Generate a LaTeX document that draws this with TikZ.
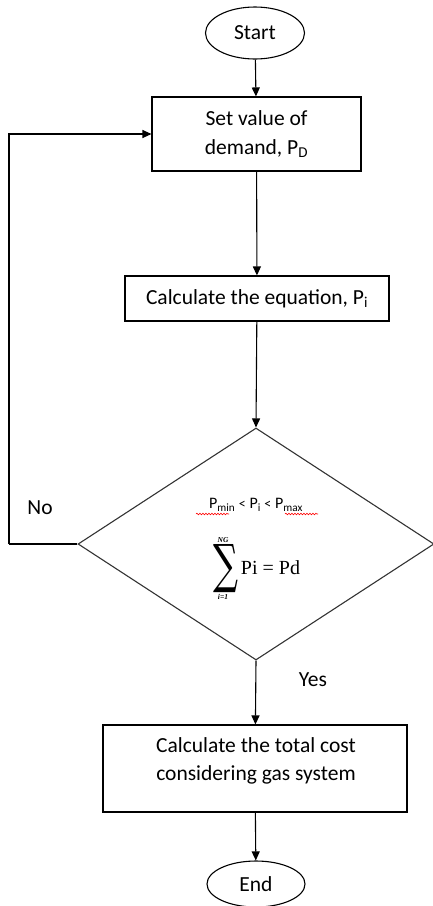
\documentclass[tikz,border=0pt]{standalone}
\usepackage{fontspec}
\setmainfont{Carlito}
\newfontfamily\serifmath{Liberation Serif}
\newfontfamily\sumfont{DejaVu Serif}
\usetikzlibrary{shapes.geometric,arrows.meta,decorations.pathmorphing}
\begin{document}
\begin{tikzpicture}[x=1pt,y=-1pt,
  every node/.style={font=\fontsize{21.5}{28.5}\selectfont},
  term/.style={draw,ellipse,line width=1.1pt,inner sep=0pt},
  proc/.style={draw,rectangle,line width=1.1pt,inner sep=0pt,align=center},
  dec/.style={draw,diamond,line width=1.1pt,inner sep=0pt,draw=black!80},
  conn/.style={line width=1.1pt,-{Triangle[length=9pt,width=8pt]}},
  plain/.style={line width=1.1pt},
  lim/.style={inner sep=0pt,font=\serifmath\itshape\bfseries\fontsize{7.5}{7.5}\selectfont},
  squig/.style={red,line width=0.6pt,decorate,decoration={snake,amplitude=0.8pt,segment length=3pt}}]
\useasboundingbox (0,0) rectangle (433,906);
\node[term,minimum width=99pt,minimum height=52pt] (start) at (255,33) {Start};
\node[proc,minimum width=209pt,minimum height=74pt] (box1) at (256.5,134) {Set value of\\demand, P\textsubscript{D}};
\node[proc,minimum width=264pt,minimum height=45pt] (box2) at (257,298.5) {Calculate the equation, P\textsubscript{i}};
\node[dec,minimum width=356pt,minimum height=232pt] (dec) at (256,544) {};
\node[font=\fontsize{16}{16}\selectfont] (cond1) at (256,505) {P\textsubscript{min} {\fontsize{14}{14}\selectfont <} P\textsubscript{i} {\fontsize{14}{14}\selectfont <} P\textsubscript{max}};
\node[inner sep=0pt] (sigma) at (225.5,568.5) {\resizebox{25pt}{38pt}{\sumfont ∑}};
\node[lim] (ng) at (223,540) {NG};
\node[lim] (ieq) at (223,597) {i=1};
\node[inner sep=0pt,font=\serifmath\fontsize{20}{20}\selectfont] (pipd) at (270.5,568) {Pi = Pd};
\node[proc,minimum width=304pt,minimum height=87pt] (box3) at (255,768.5) {};
\node[align=center] (box3text) at (256,761) {Calculate the total cost\\considering gas system};
\node[term,minimum width=98pt,minimum height=46pt] (end) at (256,884) {End};
\node (no) at (40,508) {No};
\node (yes) at (313,680) {Yes};
\coordinate (fbl) at (9,544);
\coordinate (sq1a) at (196,514);
\coordinate (sq1b) at (229,514);
\coordinate (sq2a) at (285,514);
\coordinate (sq2b) at (318,514);
\draw[squig] (sq1a) -- (sq1b);
\draw[squig] (sq2a) -- (sq2b);
\draw[conn] (start) -- (box1);
\draw[conn] (box1) -- (box2);
\draw[conn] (box2) -- (dec.north);
\draw[conn] (dec.south) -- (box3);
\draw[conn] (box3) -- (end);
\draw[plain] (dec.west) -- (fbl);
\draw[conn] (fbl) |- (box1.west);
\end{tikzpicture}
\end{document}
